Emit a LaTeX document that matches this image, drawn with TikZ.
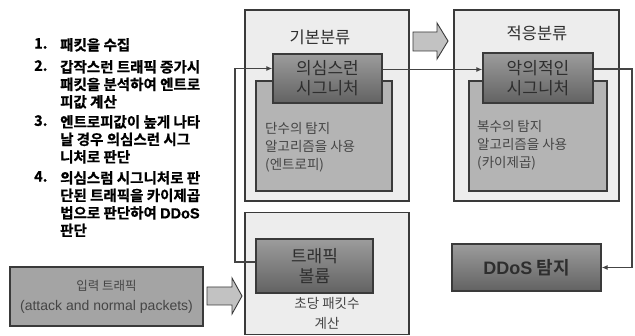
\documentclass[tikz,border=0pt]{standalone}
\usepackage{fontspec}
\setmainfont{Noto Sans CJK KR}[BoldFont={Noto Sans CJK KR Bold}]
\newfontfamily\heavyf{Noto Sans CJK KR Bold}[FakeBold=0.8]
\newfontfamily\arialf{Liberation Sans}
\newfontfamily\arialheavy{Liberation Sans Bold}[FakeBold=1.2]
\usetikzlibrary{arrows.meta}
\definecolor{outerfill}{HTML}{EDEDED}
\definecolor{border}{HTML}{3A3A3A}
\definecolor{midfill}{HTML}{B4B4B4}
\definecolor{darktop}{HTML}{9C9C9C}
\definecolor{darkbot}{HTML}{626262}
\definecolor{txt}{HTML}{2E2E2E}
\definecolor{midtxt}{HTML}{454545}
\definecolor{linec}{HTML}{444444}
\definecolor{blockfill}{HTML}{C2C2C2}
\definecolor{inputfill}{HTML}{A4A4A4}
\tikzset{
  outerbox/.style={draw=border, line width=1.3pt, fill=outerfill, inner sep=0pt},
  midbox/.style={draw=border, line width=1.3pt, fill=midfill, inner sep=0pt},
  darkbox/.style={draw=border, line width=1.3pt, top color=darktop, bottom color=darkbot,
     inner sep=0pt, align=center, text=txt, font=\fontsize{17}{20}\selectfont},
  titletxt/.style={text=txt, font=\fontsize{16.5}{20}\selectfont, inner sep=0pt},
  midtext/.style={text=midtxt, font=\fontsize{13.5}{18}\selectfont, align=left, inner sep=0pt, anchor=north west},
  listnum/.style={font=\heavyf\fontsize{14.5}{17.5}\selectfont, inner sep=0pt, anchor=north west},
  listtxt/.style={font=\heavyf\fontsize{14.5}{17.5}\selectfont, align=left, inner sep=0pt, anchor=north west},
  conn/.style={draw=linec, line width=1.3pt, -{Latex[length=6pt,width=5pt]}},
  blockarrow/.style={draw=border, line width=0.9pt, fill=blockfill, line join=miter},
}
\begin{document}
\begin{tikzpicture}[x=1pt,y=-1pt]
\useasboundingbox (0,0) rectangle (635,336);
\fill[white] (0,0) rectangle (635,336);

% list
\node[listnum] (n1) at (34,38) {1.};
\node[listtxt] (t1) at (60,38) {패킷을 수집};
\node[listnum] (n2) at (34,60) {2.};
\node[listtxt] (t2) at (60,60) {갑작스런 트래픽 증가시\\패킷을 분석하여 엔트로\\피값 계산};
\node[listnum] (n3) at (34,115) {3.};
\node[listtxt] (t3) at (60,115) {엔트로피값이 높게 나타\\날 경우 의심스런 시그\\니처로 판단};
\node[listnum] (n4) at (34,171) {4.};
\node[listtxt] (t4) at (60,171) {의심스럼 시그니처로 판\\단된 트래픽을 카이제곱\\법으로 판단하여 {\arialheavy DDoS}\\판단};

% basic classification
\node[outerbox, minimum width=164, minimum height=191] (o1) at (327,105.5) {};
\node[titletxt] (ti1) at (320,37) {기본분류};
\node[midbox, minimum width=136, minimum height=110] (m1) at (324,136) {};
\node[darkbox, minimum width=109, minimum height=49] (d1) at (327.5,78.5) {의심스런\\시그니처};
\node[midtext] (mt1) at (265,122) {단수의 탐지\\알고리즘을 사용\\(엔트로피)};

% adaptive classification
\node[outerbox, minimum width=165, minimum height=191] (o2) at (536.5,105.5) {};
\node[titletxt] (ti2) at (537,33) {적응분류};
\node[midbox, minimum width=138, minimum height=110] (m2) at (538,136) {};
\node[darkbox, minimum width=110, minimum height=50] (d2) at (538,78) {악의적인\\시그니처};
\node[midtext] (mt2) at (477,120) {복수의 탐지\\알고리즘을 사용\\(카이제곱)};

% traffic volume
\node[outerbox, minimum width=164, minimum height=122] (o3) at (327,273.5) {};
\node[darkbox, minimum width=117, minimum height=54] (d3) at (314.5,266) {트래픽\\볼륨};
\node[text=midtxt, font=\fontsize{13.5}{20}\selectfont, align=center, inner sep=0pt] (vt) at (327,313) {초당 패킷수\\계산};

% DDoS detection
\node[darkbox, minimum width=149, minimum height=47, font=\bfseries\fontsize{18}{20}\selectfont] (dd) at (526.5,267.5) {{\arialf\bfseries DDoS} 탐지};

% input traffic
\node[draw=border, line width=1.3pt, fill=inputfill, minimum width=193, minimum height=59, inner sep=0pt, text=midtxt, align=center, font=\fontsize{12.5}{20}\selectfont] (in) at (106.5,296.5) {입력 트래픽\\{\arialf\fontsize{14}{20}\selectfont (attack and normal packets)}};

% block arrows
\draw[blockarrow] (413,32) -- (437,32) -- (437,23) -- (448,41) -- (437,59) -- (437,51) -- (413,51) -- cycle;
\draw[blockarrow] (207,287) -- (232,287) -- (232,278) -- (242,296) -- (232,314) -- (232,305) -- (207,305) -- cycle;

% connectors
\coordinate (lx) at (235,0);
\coordinate (rx) at (632,0);
\coordinate (d3w) at ([yshift=4pt]d3.west);
\draw[conn] (d3w) -- (lx |- d3w) |- ([yshift=10pt]d1.west);
\draw[conn] ([yshift=9pt]d1.east) -- ([yshift=9pt]d1.east -| d2.west);
\draw[conn] ([yshift=9pt]d2.east) -| (rx |- dd.east) -- (dd.east);
\end{tikzpicture}
\end{document}
